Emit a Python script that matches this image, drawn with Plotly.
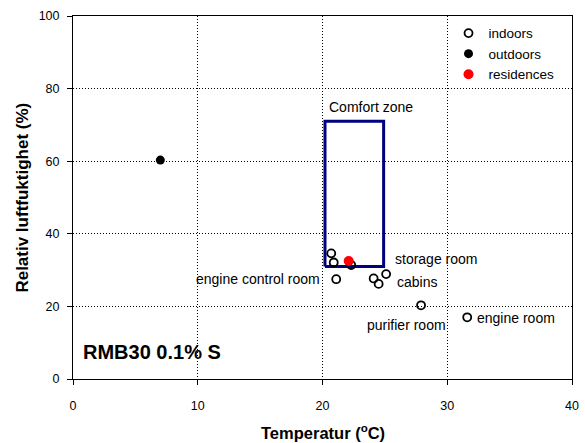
import plotly.graph_objects as go

# Data
indoor_temp = [20.7, 20.9, 22.3, 21.1, 24.1, 24.5, 25.1, 27.9, 31.6]
indoor_rh = [34.6, 32.1, 31.4, 27.5, 27.7, 26.2, 28.9, 20.3, 17.0]
outdoor_temp = [7.0]
outdoor_rh = [60.3]
resid_temp = [22.1]
resid_rh = [32.5]

comfort_temp = [20.2, 24.9]
comfort_rh = [31.0, 71.0]

label_text = ["engine control room", "storage room", "cabins", "purifier room", "engine room", "Comfort zone"]
label_temp = [19.95, 25.65, 25.8, 26.7, 32.2, 20.4]
label_rh = [27.5, 33.1, 26.7, 14.9, 16.8, 74.9]
label_anchor = ["right", "left", "left", "center", "left", "left"]

x_ticks = [0, 10, 20, 30, 40]
y_ticks = [0, 20, 40, 60, 80, 100]
x_title = "<b>Temperatur (<sup>o</sup>C)</b>"
y_title = "<b>Relativ luftfuktighet (%)</b>"

FONT = "Liberation Sans, Arial, sans-serif"

fig = go.Figure()

# comfort zone rectangle
fig.add_trace(go.Scatter(
    x=[comfort_temp[0], comfort_temp[1], comfort_temp[1], comfort_temp[0], comfort_temp[0]],
    y=[comfort_rh[0], comfort_rh[0], comfort_rh[1], comfort_rh[1], comfort_rh[0]],
    mode="lines", line=dict(color="#000080", width=3), showlegend=False, hoverinfo="skip"))

fig.add_trace(go.Scatter(x=indoor_temp, y=indoor_rh, mode="markers", name="indoors",
                         marker=dict(symbol="circle-open", size=8, color="black",
                                     line=dict(width=1.8, color="black"))))
fig.add_trace(go.Scatter(x=outdoor_temp, y=outdoor_rh, mode="markers", name="outdoors",
                         marker=dict(symbol="circle", size=9, color="black")))
fig.add_trace(go.Scatter(x=resid_temp, y=resid_rh, mode="markers", name="residences",
                         marker=dict(symbol="circle", size=10, color="red")))

for t, xv, yv, a in zip(label_text, label_temp, label_rh, label_anchor):
    fig.add_annotation(x=xv, y=yv, text=t, showarrow=False, xanchor=a, yanchor="middle",
                       font=dict(family=FONT, size=14, color="black"))

fig.add_annotation(x=0.016, y=0.074, xref="paper", yref="paper", text="<b>RMB30 0.1% S</b>",
                   showarrow=False, xanchor="left", yanchor="middle",
                   font=dict(family=FONT, size=20, color="black"))

# axis titles
fig.add_annotation(x=0.5, y=-0.146, xref="paper", yref="paper", text=x_title,
                   showarrow=False, xanchor="center", yanchor="middle",
                   font=dict(family=FONT, size=16.5, color="black"))
fig.add_annotation(x=-0.102, y=0.5, xref="paper", yref="paper", text=y_title,
                   showarrow=False, xanchor="center", yanchor="middle", textangle=-90,
                   font=dict(family=FONT, size=17, color="black"))

axis_common = dict(showline=True, linecolor="black", linewidth=1, mirror=True,
                   showgrid=True, gridcolor="black", griddash="1px,2px", gridwidth=1,
                   zeroline=False, ticks="outside", ticklen=5, tickcolor="black",
                   automargin=False,
                   tickfont=dict(family=FONT, size=12.5, color="black"))

fig.update_xaxes(range=[0, 40], tickvals=x_ticks, ticklabelstandoff=10, **axis_common)
fig.update_yaxes(range=[0, 100], tickvals=y_ticks, ticklabelstandoff=5, **axis_common)

fig.update_layout(
    width=585, height=443,
    margin=dict(l=73, r=13, t=16, b=64, autoexpand=False),
    paper_bgcolor="white", plot_bgcolor="white",
    font=dict(family=FONT, size=14, color="black"),
    legend=dict(x=0.975, y=0.995, xanchor="right", yanchor="top",
                bgcolor="rgba(0,0,0,0)", font=dict(family=FONT, size=13.5),
                itemwidth=30, tracegroupgap=0),
)

fig.write_html("out.html")
